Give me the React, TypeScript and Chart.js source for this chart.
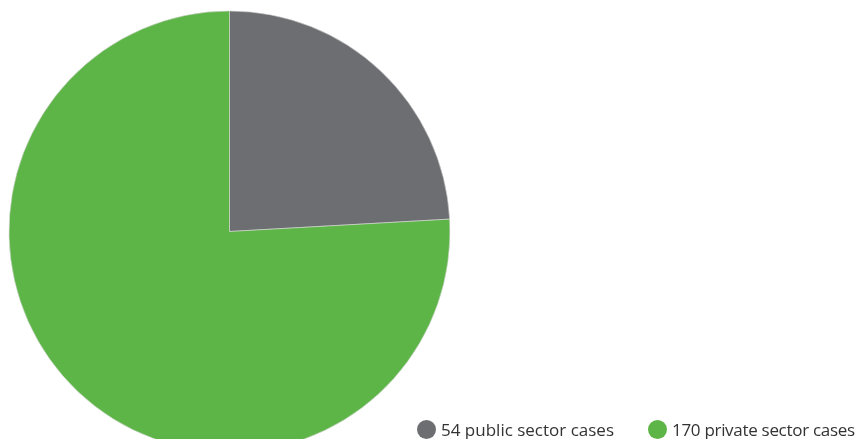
import React, { useEffect, useRef } from "react";
import { Chart, registerables } from "chart.js";

Chart.register(...registerables);

const categories = ["54 public sector cases", "170 private sector cases"];
const values = [54, 170];
const colors = ["#6d6e71", "#5db447"];

export default function App() {
  const ref = useRef<HTMLCanvasElement | null>(null);

  useEffect(() => {
    document.documentElement.style.overflow = "hidden";
    if (!ref.current) return;
    const chart = new Chart(ref.current, {
      type: "pie",
      data: {
        labels: categories,
        datasets: [
          {
            data: values,
            backgroundColor: colors,
            borderColor: "#d9d9d9",
            borderWidth: 0.6,
            radius: 220.5,
          },
        ],
      },
      options: {
        responsive: false,
        animation: false,
        layout: { padding: 0 },
        plugins: {
          legend: { display: false },
          tooltip: { enabled: false },
        },
      },
    });
    return () => chart.destroy();
  }, []);

  const itemStyle = (left: number, ls: number): React.CSSProperties => ({
    position: "absolute",
    left,
    top: 407,
    height: 28,
    width: 240,
    display: "flex",
    alignItems: "center",
    whiteSpace: "nowrap",
    fontFamily: "'Open Sans', sans-serif",
    fontSize: 17,
    letterSpacing: ls,
    color: "#333333",
  });
  const dot = (c: string): React.CSSProperties => ({
    width: 19,
    height: 19,
    borderRadius: "50%",
    background: c,
    marginRight: 5,
    flex: "none",
  });

  return (
    <div style={{ position: "relative", width: 855, height: 431 }}>
      <canvas ref={ref} width={443} height={447} style={{ position: "absolute", left: 0, top: 0, width: 443, height: 447 }} />
      <div style={itemStyle(409, 0)}>
        <span style={dot(colors[0])} />
        <span>{categories[0]}</span>
      </div>
      <div style={itemStyle(640, -0.3)}>
        <span style={dot(colors[1])} />
        <span>{categories[1]}</span>
      </div>
    </div>
  );
}
